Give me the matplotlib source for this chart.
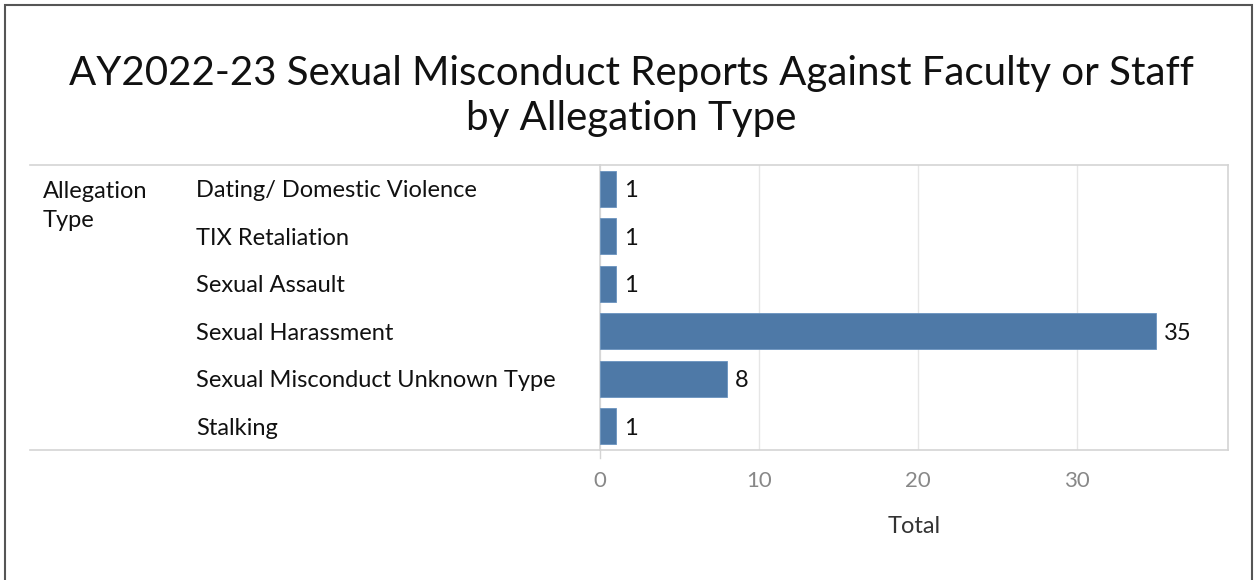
import matplotlib.pyplot as plt
from matplotlib.lines import Line2D
from matplotlib.patches import Rectangle
import matplotlib.transforms as mtransforms


title = 'AY2022-23 Sexual Misconduct Reports Against Faculty or Staff\nby Allegation Type'
categories = [
    'Dating/ Domestic Violence',
    'TIX Retaliation',
    'Sexual Assault',
    'Sexual Harassment',
    'Sexual Misconduct Unknown Type',
    'Stalking',
]
totals = [1, 1, 1, 35, 8, 1]
x_ticks = [0, 10, 20, 30]

W, H = 1255, 580
BAR_COLOR = '#4e79a7'
GRID = '#e6e6e6'
FONT = 'Lato'

plt.rcParams['font.family'] = [FONT, 'DejaVu Sans']

fig = plt.figure(figsize=(W / 100, H / 100), dpi=100)

# outer frame
fig.patches.append(Rectangle((5 / W, -0.01), 1247 / W, 1 - 5 / H + 0.01,
                             transform=fig.transFigure, fill=False,
                             edgecolor='#555555', lw=1.5))

fig.text(631 / W, 1 - 96 / H, title, ha='center', va='center',
         fontsize=29, color='#111111', linespacing=1.28)

ax = fig.add_axes([600 / W, 1 - 450 / H, 628 / W, 285 / H])
y = list(range(len(categories)))
ax.barh(y, totals, height=0.76, color=BAR_COLOR, edgecolor='#6a93bf', lw=0.6, zorder=3)
ax.set_ylim(len(categories) - 0.5, -0.5)
ax.set_xlim(0, 39.5)

down = mtransforms.ScaledTranslation(0, -2 / 100, fig.dpi_scale_trans)

for yi, v in zip(y, totals):
    ax.text(v + 0.5, yi, str(v), va='center', ha='left', fontsize=17,
            color='#111111', transform=ax.transData + down)

ax.set_yticks([])
ax.set_xticks(x_ticks)
ax.set_xticklabels([str(t) for t in x_ticks], fontsize=16, color='#888888')
ax.tick_params(axis='x', length=0, pad=15)
ax.xaxis.grid(True, color=GRID, lw=1, zorder=0)
for s in ['top', 'bottom', 'right', 'left']:
    ax.spines[s].set_color('#d4d4d4')
    ax.spines[s].set_linewidth(1.2)
ax.set_xlabel('Total', fontsize=17, color='#333333', labelpad=18)

# zero tick below pane
fig.add_artist(Line2D([600 / W, 600 / W], [1 - 450 / H, 1 - 458 / H],
                      transform=fig.transFigure, color='#d4d4d4', lw=1))

# header pane lines on the left
for yy in (165, 450):
    fig.add_artist(Line2D([30 / W, 600 / W], [1 - yy / H, 1 - yy / H],
                          transform=fig.transFigure, color='#d4d4d4', lw=1.2))

trans = mtransforms.blended_transform_factory(fig.transFigure, ax.transData) + down
for yi, c in zip(y, categories):
    ax.text(196 / W, yi, c, transform=trans, ha='left', va='center',
            fontsize=17, color='#111111', clip_on=False)

fig.text(43 / W, 1 - 206 / H, 'Allegation\nType', ha='left', va='center',
         fontsize=17, color='#111111', linespacing=1.5)

fig.savefig('out.png', dpi=100, facecolor='white')
